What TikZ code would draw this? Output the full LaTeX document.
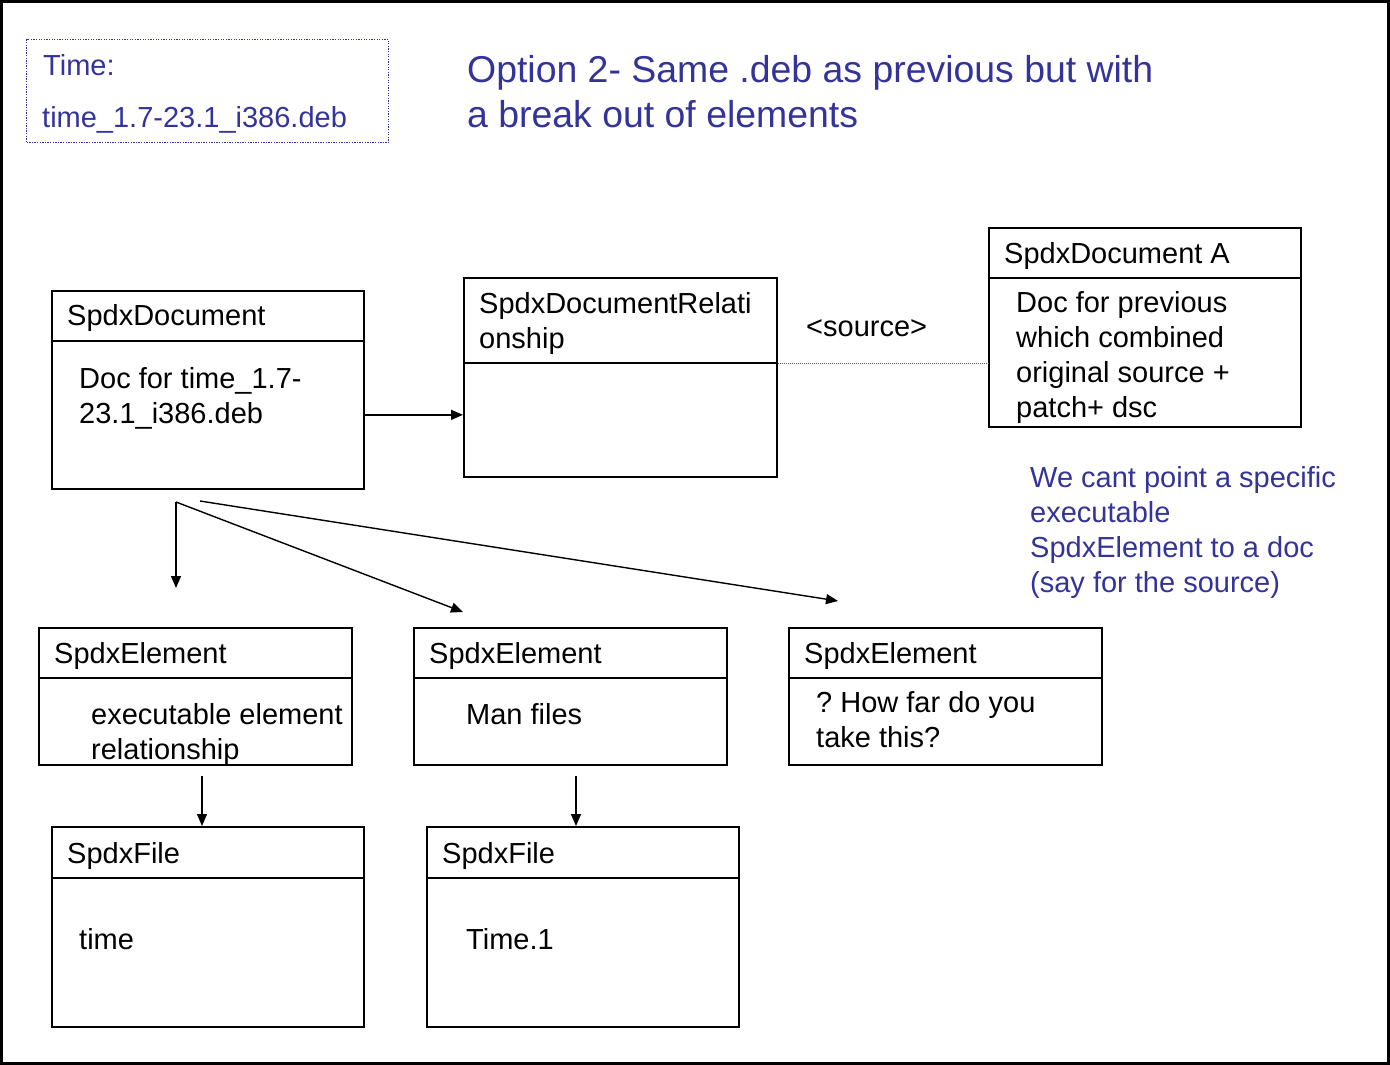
\documentclass[tikz,border=0pt]{standalone}
\usepackage{fontspec}
\setmainfont{Liberation Sans}
\usetikzlibrary{arrows.meta,calc}
\definecolor{noteblue}{RGB}{51,51,153}
\definecolor{dotgrey}{RGB}{90,90,90}
\frenchspacing
\newcommand\umlbox[6]{%
  \node[umlbox, minimum width=#4pt, minimum height=#5pt] (#1) at (#2,#3) {};
  \draw[boxline] ($(#1.north west)+(0,#6)$) -- ($(#1.north east)+(0,#6)$);}
\begin{document}
\begin{tikzpicture}[x=1pt,y=-1pt,
  umlbox/.style={draw=black, line width=1.7pt, anchor=north west, inner sep=0pt},
  boxline/.style={draw=black, line width=1.7pt},
  txt/.style={anchor=base west, inner sep=0pt, font=\fontsize{29}{35}\selectfont},
  bluetxt/.style={txt, text=noteblue},
  titletxt/.style={anchor=base west, inner sep=0pt, text=noteblue, font=\fontsize{37.4}{45}\selectfont},
  arr/.style={draw=black, line width=1.4pt, -{Triangle[length=12pt,width=10pt]}},
  dotconn/.style={draw=dotgrey, line width=1.1pt, dash pattern=on 1pt off 1pt},
  timeframe/.style={draw=noteblue, line width=1.3pt, dash pattern=on 1.3pt off 1.3pt, anchor=north west, inner sep=0pt}]
\useasboundingbox (0,0) rectangle (1390,1065);
\draw[line width=2.6pt] (1.5,1.5) rectangle (1388.5,1063.5);

% time box
\node[timeframe, minimum width=362pt, minimum height=103pt] (timebox) at (26,39) {};
\node[bluetxt] (timeA) at (43,75) {Time:};
\node[bluetxt] (timeB) at (42,128) {time\_1.7-23.1\_i386.deb};

% title
\node[titletxt] (titleA) at (467,83) {Option 2- Same .deb as previous but with};
\node[titletxt] (titleB) at (467,128) {a break out of elements};

% boxes
\umlbox{doc}{51}{290}{312}{198}{51}
\umlbox{rel}{463}{277}{313}{199}{86}
\umlbox{docA}{988}{227}{312}{199}{51}
\umlbox{elA}{38}{627}{313}{137}{51}
\umlbox{elB}{413}{627}{313}{137}{51}
\umlbox{elC}{788}{627}{313}{137}{51}
\umlbox{fileA}{51}{826}{312}{200}{52}
\umlbox{fileB}{426}{826}{312}{200}{52}

% box texts
\node[txt] (docT) at (67,325) {SpdxDocument};
\node[txt] (docL1) at (79,388) {Doc for time\_1.7-};
\node[txt] (docL2) at (79,423) {23.1\_i386.deb};

\node[txt] (relT1) at (479,313) {SpdxDocumentRelati};
\node[txt] (relT2) at (479,348) {onship};

\node[txt] (docAT) at (1004,263) {SpdxDocument A};
\node[txt] (docAL1) at (1016,312) {Doc for previous};
\node[txt] (docAL2) at (1016,347) {which combined};
\node[txt] (docAL3) at (1016,382) {original source +};
\node[txt] (docAL4) at (1016,417) {patch+ dsc};

\node[txt] (elAT) at (54,663) {SpdxElement};
\node[txt] (elAL1) at (91,724) {executable element};
\node[txt] (elAL2) at (91,759) {relationship};

\node[txt] (elBT) at (429,663) {SpdxElement};
\node[txt] (elBL1) at (466,724) {Man files};

\node[txt] (elCT) at (804,663) {SpdxElement};
\node[txt] (elCL1) at (816,712) {? How far do you};
\node[txt] (elCL2) at (816,747) {take this?};

\node[txt] (fileAT) at (67,863) {SpdxFile};
\node[txt] (fileAL) at (79,949) {time};

\node[txt] (fileBT) at (442,863) {SpdxFile};
\node[txt] (fileBL) at (466,949) {Time.1};

\node[txt] (srcLbl) at (806,336) {<source>};

\node[bluetxt] (noteA) at (1030,487) {We cant point a specific};
\node[bluetxt] (noteB) at (1030,522) {executable};
\node[bluetxt] (noteC) at (1030,557) {SpdxElement to a doc};
\node[bluetxt] (noteD) at (1030,592) {(say for the source)};

% connectors
\draw[arr] ([yshift=-25pt]doc.east) coordinate (dA) -- (dA -| rel.west);
\draw[dotconn] ([yshift=13.5pt]rel.east) coordinate (rA) -- (rA -| docA.west);

\coordinate (fanA) at (176,502);
\coordinate (fanB) at (200,501);
\coordinate (endA) at (176,588);
\coordinate (endB) at (463,612);
\coordinate (endC) at (838,601);
\draw[arr] (fanA) -- (endA);
\draw[arr] (fanA) -- (endB);
\draw[arr] (fanB) -- (endC);

\coordinate (eAsrc) at (202,776);
\coordinate (eBsrc) at (576,776);
\draw[arr] (eAsrc) -- (eAsrc |- fileA.north);
\draw[arr] (eBsrc) -- (eBsrc |- fileB.north);
\end{tikzpicture}
\end{document}
